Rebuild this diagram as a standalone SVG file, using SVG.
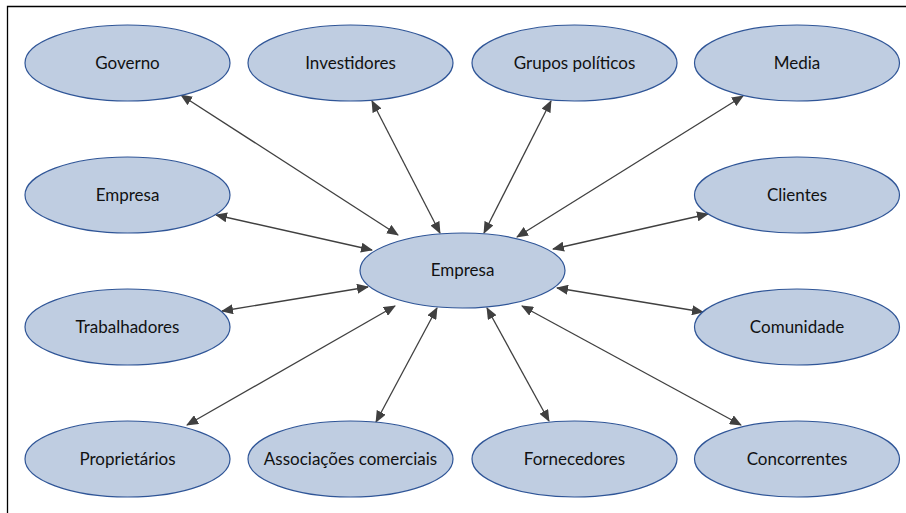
<svg xmlns="http://www.w3.org/2000/svg" width="906" height="513" viewBox="0 0 906 513">
<style>
.n ellipse{fill:#BFCDE1;stroke:#2F5597;stroke-width:1.2}
.n text{font-family:Lato,"Open Sans","Liberation Sans",sans-serif;font-size:17px;fill:#111;text-anchor:middle}
.c line{stroke:#404040;stroke-width:1.3;marker-start:url(#ah);marker-end:url(#ah)}
</style>
<defs>
<marker id="ah" viewBox="0 0 12 10" refX="11" refY="5" markerWidth="12" markerHeight="10" markerUnits="userSpaceOnUse" orient="auto-start-reverse">
<path d="M0,0 L12,5 L0,10 z" fill="#404040"/>
</marker>
</defs>
<rect width="906" height="513" fill="#fff"/>
<path d="M7.5,513 V6.5 H906" fill="none" stroke="#000" stroke-width="1.3"/>
<g class="c">
<line x1="181" y1="95" x2="398" y2="235"/>
<line x1="372" y1="101" x2="440" y2="233"/>
<line x1="551" y1="101" x2="484" y2="233"/>
<line x1="743" y1="96" x2="517" y2="237"/>
<line x1="216" y1="215" x2="372" y2="250"/>
<line x1="708" y1="214" x2="553" y2="249"/>
<line x1="222" y1="311" x2="368" y2="287"/>
<line x1="703" y1="312" x2="557" y2="288"/>
<line x1="187" y1="425" x2="395" y2="306"/>
<line x1="376" y1="422" x2="437" y2="308"/>
<line x1="549" y1="421" x2="487" y2="308"/>
<line x1="741" y1="425" x2="522" y2="306"/>
</g>
<g class="n" id="empresa-centro"><ellipse cx="462.5" cy="270.5" rx="102.5" ry="37.5"/><text x="462.5" y="276">Empresa</text></g>
<g class="n" id="governo"><ellipse cx="127.5" cy="63" rx="102.5" ry="38"/><text x="127.5" y="68.5">Governo</text></g>
<g class="n" id="investidores"><ellipse cx="350.5" cy="63" rx="102.5" ry="38"/><text x="350.5" y="68.5">Investidores</text></g>
<g class="n" id="grupos"><ellipse cx="574.5" cy="63" rx="102.5" ry="38"/><text x="574.5" y="68.5">Grupos políticos</text></g>
<g class="n" id="media"><ellipse cx="797" cy="63" rx="102.5" ry="38"/><text x="797" y="68.5">Media</text></g>
<g class="n" id="empresa"><ellipse cx="127.5" cy="195" rx="102.5" ry="38"/><text x="127.5" y="200.5">Empresa</text></g>
<g class="n" id="clientes"><ellipse cx="797" cy="195" rx="102.5" ry="38"/><text x="797" y="200.5">Clientes</text></g>
<g class="n" id="trabalhadores"><ellipse cx="127.5" cy="327" rx="102.5" ry="38"/><text x="127.5" y="332.5">Trabalhadores</text></g>
<g class="n" id="comunidade"><ellipse cx="797" cy="327" rx="102.5" ry="38"/><text x="797" y="332.5">Comunidade</text></g>
<g class="n" id="proprietarios"><ellipse cx="127.5" cy="459" rx="102.5" ry="38"/><text x="127.5" y="464.5">Proprietários</text></g>
<g class="n" id="associacoes"><ellipse cx="350.5" cy="459" rx="102.5" ry="38"/><text x="350.5" y="464.5">Associações comerciais</text></g>
<g class="n" id="fornecedores"><ellipse cx="574.5" cy="459" rx="102.5" ry="38"/><text x="574.5" y="464.5">Fornecedores</text></g>
<g class="n" id="concorrentes"><ellipse cx="797" cy="459" rx="102.5" ry="38"/><text x="797" y="464.5">Concorrentes</text></g>
</svg>
